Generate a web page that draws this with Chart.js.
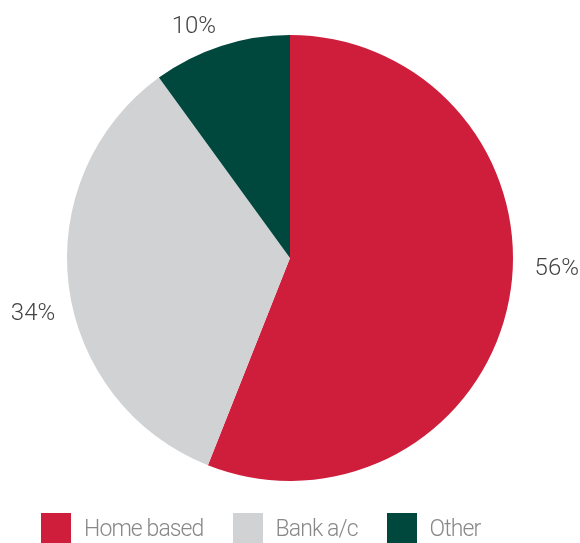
<!DOCTYPE html>
<html>
<head>
<meta charset="utf-8">
<script src="https://cdn.jsdelivr.net/npm/chart.js@4"></script>
<style>
    html, body { margin: 0; padding: 0; background: #fff; }
    #wrap { position: relative; width: 580px; height: 543px; overflow: hidden; }
    #legend {
        position: absolute; left: 41px; top: 513px;
        display: flex; align-items: center;
        font-family: Roboto, sans-serif; font-weight: 300; font-size: 23px; color: #888;
        letter-spacing: -0.9px;
    }
    .item { display: flex; align-items: center; margin-right: 29px; }
    .box { width: 30px; height: 30px; margin-right: 13px; }
</style>
</head>
<body>
<div id="wrap">
    <canvas id="pie" width="580" height="543"></canvas>
    <div id="legend"></div>
</div>
<script>
    'use strict';

    var categories = ['Home based', 'Bank a/c', 'Other'];
    var shares = [56, 34, 10];
    var colors = ['#CE1E3B', '#D1D2D4', '#00473D'];

    // build the legend from the arrays
    var legend = document.getElementById('legend');
    categories.forEach(function(name, i) {
        var item = document.createElement('div');
        item.className = 'item';
        item.innerHTML = '<div class="box" style="background:' + colors[i] + '"></div><span>' + name + '</span>';
        legend.appendChild(item);
    });

    // percent labels outside each slice
    var outsideLabels = {
        id: 'outsideLabels',
        afterDatasetsDraw: function(chart, args, opts) {
            var ctx = chart.ctx;
            var meta = chart.getDatasetMeta(0);
            ctx.save();
            ctx.font = '300 24px Roboto, sans-serif';
            ctx.fillStyle = '#444';
            ctx.textAlign = 'center';
            ctx.textBaseline = 'middle';
            meta.data.forEach(function(arc, i) {
                var mid = (arc.startAngle + arc.endAngle) / 2 + opts.shift[i] * Math.PI / 180;
                var d = arc.outerRadius + opts.gap[i];
                ctx.fillText(shares[i] + '%', arc.x + Math.cos(mid) * d, arc.y + Math.sin(mid) * d);
            });
            ctx.restore();
        }
    };

    new Chart(document.getElementById('pie').getContext('2d'), {
        type: 'pie',
        data: {
            labels: categories,
            datasets: [{
                data: shares,
                backgroundColor: colors,
                borderWidth: 0
            }]
        },
        options: {
            responsive: false,
            animation: false,
            layout: { padding: { top: 35, bottom: 62, left: 0, right: 0 } },
            plugins: {
                legend: { display: false },
                tooltip: { enabled: false },
                outsideLabels: { shift: [-8.4, -5.1, -4.6], gap: [44, 40, 27] }
            }
        },
        plugins: [outsideLabels]
    });
</script>
</body>
</html>
